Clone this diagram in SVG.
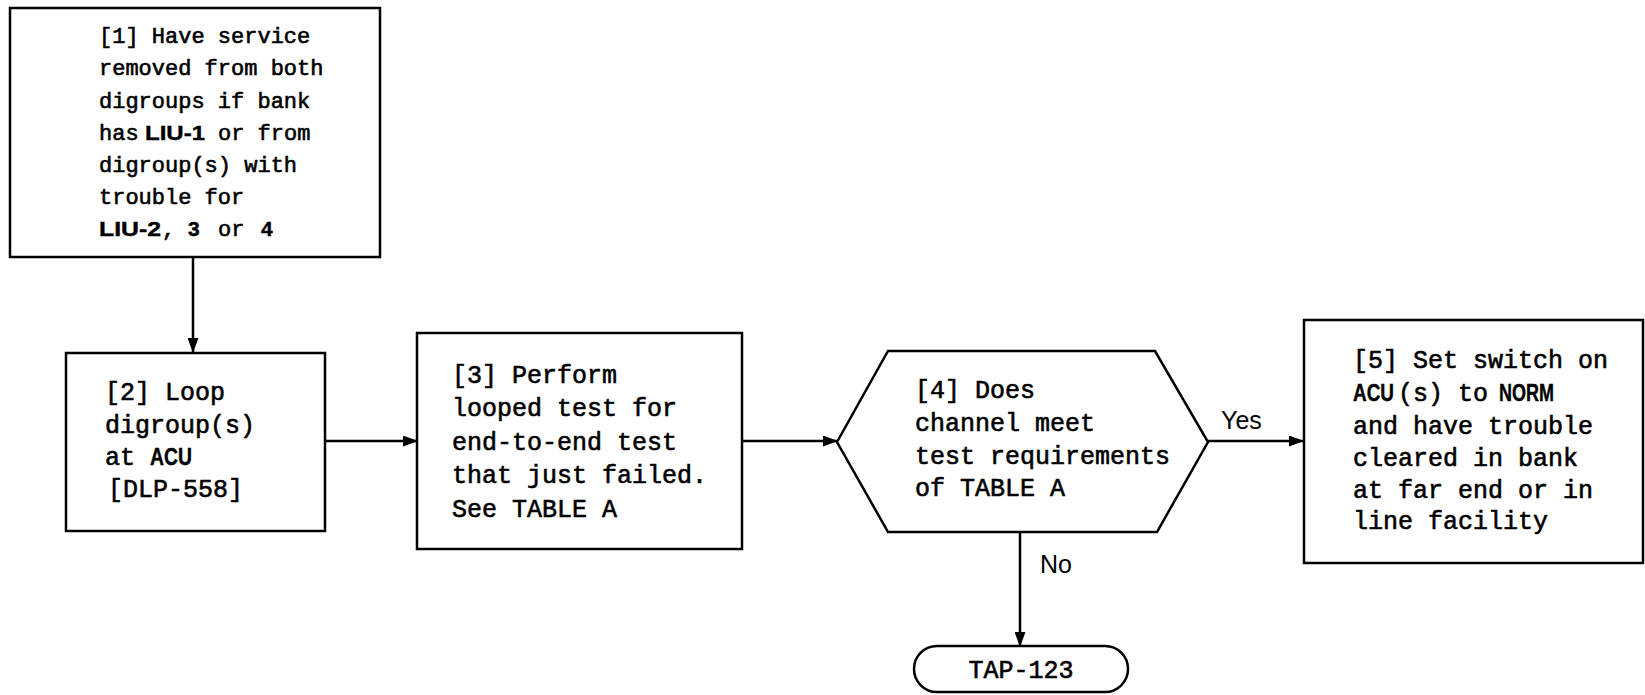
<svg xmlns="http://www.w3.org/2000/svg" width="1645" height="695" viewBox="0 0 1645 695">
  <defs>
    <marker id="arrow" viewBox="0 0 15 11" refX="14" refY="5.5" markerWidth="15" markerHeight="11" markerUnits="userSpaceOnUse" orient="auto">
      <path d="M0,0 L15,5.5 L0,11 Z" fill="#000"/>
    </marker>
    <style>
      .shape { fill: #fff; stroke: #000; stroke-width: 2.5; }
      .edge { fill: none; stroke: #000; stroke-width: 2.5; marker-end: url(#arrow); }
      .mono { font-family: "Liberation Mono", "DejaVu Sans Mono", monospace; font-size: 25px; fill: #000; stroke: #000; stroke-width: 0.6; }
      .small { font-size: 22px; }
      .bold { font-family: "Liberation Sans", Arial, sans-serif; font-weight: bold; font-size: 21px; fill: #000; stroke: #000; stroke-width: 0.4; }
      .bold.big { font-size: 23px; }
      .label { font-family: "Liberation Sans", Arial, sans-serif; font-size: 25px; fill: #000; }
    </style>
  </defs>
  <rect width="1645" height="695" fill="#fff"/>

  <!-- connectors -->
  <g id="connectors">
    <line class="edge" x1="193" y1="257" x2="193" y2="352"/>
    <line class="edge" x1="325" y1="441" x2="417" y2="441"/>
    <line class="edge" x1="742" y1="441" x2="837" y2="441"/>
    <line class="edge" x1="1208" y1="441" x2="1303" y2="441"/>
    <line class="edge" x1="1020" y1="532" x2="1020" y2="646"/>
    <text class="label" x="1221" y="429">Yes</text>
    <text class="label" x="1040" y="573">No</text>
  </g>

  <!-- step 1 -->
  <g id="step1">
    <rect class="shape" x="10" y="8" width="370" height="249"/>
    <text class="mono small">
      <tspan x="99" y="43">[1] Have service</tspan>
      <tspan x="99" y="75">removed from both</tspan>
      <tspan x="99" y="108">digroups if bank</tspan>
      <tspan x="99" y="140">has</tspan><tspan x="218" y="140">or from</tspan>
      <tspan x="99" y="172">digroup(s) with</tspan>
      <tspan x="99" y="204">trouble for</tspan>
      <tspan x="162" y="236">,</tspan><tspan x="218" y="236">or</tspan>
    </text>
    <text class="bold" x="145" y="140" textLength="60" lengthAdjust="spacingAndGlyphs">LIU-1</text>
    <text class="bold" x="99" y="236" textLength="62" lengthAdjust="spacingAndGlyphs">LIU-2</text>
    <text class="bold" x="188" y="236">3</text>
    <text class="bold" x="261" y="236">4</text>
  </g>

  <!-- step 2 -->
  <g id="step2">
    <rect class="shape" x="66" y="353" width="259" height="178"/>
    <text class="mono">
      <tspan x="105" y="400">[2] Loop</tspan>
      <tspan x="105" y="433">digroup(s)</tspan>
      <tspan x="105" y="465">at</tspan>
      <tspan x="108" y="497">[DLP-558]</tspan>
    </text>
    <text class="bold big" x="150" y="465" textLength="42" lengthAdjust="spacingAndGlyphs">ACU</text>
  </g>

  <!-- step 3 -->
  <g id="step3">
    <rect class="shape" x="417" y="333" width="325" height="216"/>
    <text class="mono">
      <tspan x="452" y="383">[3] Perform</tspan>
      <tspan x="452" y="416">looped test for</tspan>
      <tspan x="452" y="450">end-to-end test</tspan>
      <tspan x="452" y="483">that just failed.</tspan>
      <tspan x="452" y="517">See TABLE A</tspan>
    </text>
  </g>

  <!-- step 4: decision -->
  <g id="step4">
    <polygon class="shape" points="837,442 888,351 1155,351 1208,442 1157,532 888,532"/>
    <text class="mono">
      <tspan x="915" y="398">[4] Does</tspan>
      <tspan x="915" y="431">channel meet</tspan>
      <tspan x="915" y="464">test requirements</tspan>
      <tspan x="915" y="496">of TABLE A</tspan>
    </text>
  </g>

  <!-- step 5 -->
  <g id="step5">
    <rect class="shape" x="1304" y="320" width="339" height="243"/>
    <text class="mono">
      <tspan x="1353" y="368">[5] Set switch on</tspan>
      <tspan x="1398" y="401">(s) to</tspan>
      <tspan x="1353" y="434">and have trouble</tspan>
      <tspan x="1353" y="466">cleared in bank</tspan>
      <tspan x="1353" y="498">at far end or in</tspan>
      <tspan x="1353" y="529">line facility</tspan>
    </text>
    <text class="bold big" x="1353" y="401" textLength="41" lengthAdjust="spacingAndGlyphs">ACU</text>
    <text class="bold big" x="1499" y="401" textLength="55" lengthAdjust="spacingAndGlyphs">NORM</text>
  </g>

  <!-- terminal -->
  <g id="tap123">
    <rect class="shape" x="914" y="646" width="214" height="46" rx="23" ry="23"/>
    <text class="mono" x="1021" y="678" text-anchor="middle">TAP-123</text>
  </g>
</svg>
